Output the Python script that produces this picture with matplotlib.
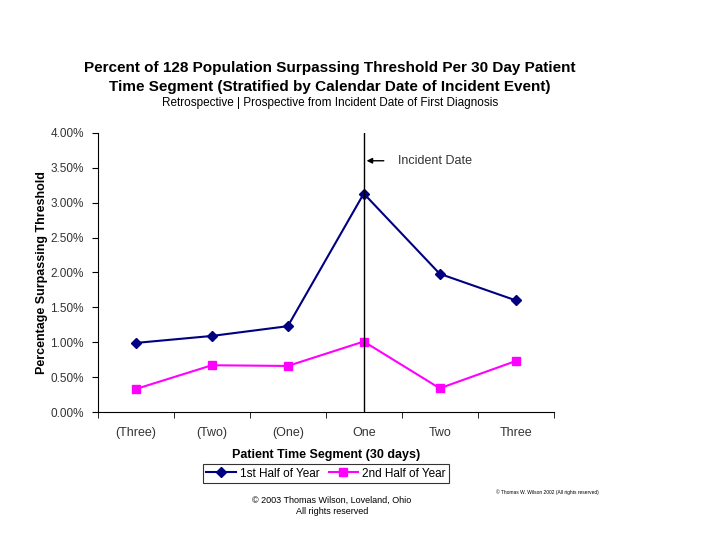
import matplotlib.pyplot as plt
from matplotlib.ticker import FixedLocator, FuncFormatter

plt.rcParams['font.family'] = ['Liberation Sans', 'DejaVu Sans']

segments = ['(Three)', '(Two)', '(One)', 'One', 'Two', 'Three']
first_half = [0.99, 1.09, 1.23, 3.13, 1.98, 1.60]
second_half = [0.33, 0.67, 0.66, 1.01, 0.34, 0.73]
y_ticks = [0, 0.5, 1.0, 1.5, 2.0, 2.5, 3.0, 3.5, 4.0]

fig = plt.figure(figsize=(7.2, 5.4), dpi=100)
ax = fig.add_axes([0.136, 0.237, 0.633, 0.517])

x = list(range(len(segments)))
ax.plot(x, first_half, color='#000080', marker='D', markersize=5, lw=1.5,
        label='1st Half of Year')
ax.plot(x, second_half, color='#FF00FF', marker='s', markersize=6, lw=1.5,
        label='2nd Half of Year')

ax.set_xlim(-0.5, len(segments) - 0.5)
ax.set_ylim(0, 4.0)
ax.yaxis.set_major_locator(FixedLocator(y_ticks))
ax.yaxis.set_major_formatter(FuncFormatter(lambda v, p: '%.2f%%' % v))

ax.set_xticks(x)
ax.set_xticklabels(segments)
ax.set_xticks([i - 0.5 for i in range(len(segments) + 1)], minor=True)
ax.tick_params(axis='x', which='major', length=0, pad=11, labelsize=9, labelcolor='#333333')
ax.tick_params(axis='x', which='minor', length=4, direction='out')
ax.tick_params(axis='y', length=4, direction='out', pad=6, labelsize=8.5, labelcolor='#333333')

for s in ['top', 'right']:
    ax.spines[s].set_visible(False)

# incident date marker
ax.axvline(3, color='black', lw=1)
ax.annotate('', xy=(3.0, 3.6), xytext=(3.3, 3.6),
            arrowprops=dict(arrowstyle='-|>', color='black', lw=1, mutation_scale=8))
ax.text(3.45, 3.6, 'Incident Date', fontsize=9, va='center', color='#333333')

ax.set_ylabel('Percentage Surpassing Threshold', fontsize=9, fontweight='bold', labelpad=2)
ax.set_xlabel('Patient Time Segment (30 days)', fontsize=9, fontweight='bold', labelpad=7)

fig.text(0.458, 0.866, 'Percent of 128 Population Surpassing Threshold Per 30 Day Patient',
         ha='center', fontsize=11, fontweight='bold')
fig.text(0.458, 0.831, 'Time Segment (Stratified by Calendar Date of Incident Event)',
         ha='center', fontsize=11, fontweight='bold')
fig.text(0.458, 0.803, 'Retrospective | Prospective from Incident Date of First Diagnosis',
         ha='center', fontsize=8.5)

leg = ax.legend(loc='upper center', bbox_to_anchor=(0.5, -0.165), ncol=2, frameon=True,
                fancybox=False, edgecolor='black', fontsize=8.5, handlelength=2.5,
                columnspacing=0.8, handletextpad=0.3, borderpad=0.3)
leg.get_frame().set_linewidth(0.8)

fig.text(0.461, 0.068, '\u00a9 2003 Thomas Wilson, Loveland, Ohio', ha='center', fontsize=6.5)
fig.text(0.461, 0.048, 'All rights reserved', ha='center', fontsize=6.5)
fig.text(0.76, 0.086, '\u00a9 Thomas W. Wilson 2002 (All rights reserved)', ha='center', fontsize=3.5)

fig.savefig('out.png', dpi=100)
